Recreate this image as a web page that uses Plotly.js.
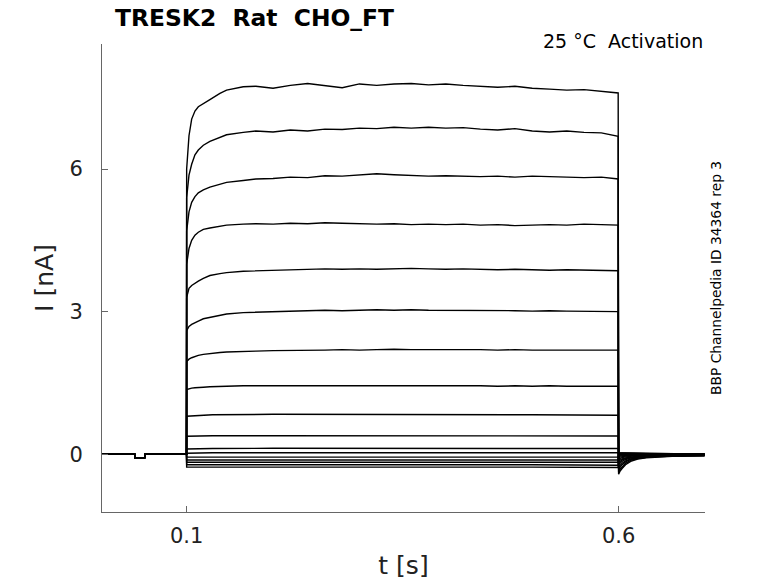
<!DOCTYPE html>
<html>
<head>
<meta charset="utf-8">
<script src="https://cdn.plot.ly/plotly-3.0.1.min.js"></script>
<style>
  html, body { margin: 0; padding: 0; background: #fff; }
  #chart { width: 778px; height: 583px; }
</style>
</head>
<body>
<div id="chart"></div>
<script>
// time grids [s]
var tPre  = [0.002, 0.0398, 0.0405, 0.0512, 0.0519, 0.0998];
var tStep = [0.1, 0.1027, 0.1058, 0.1096, 0.1135, 0.1193, 0.1269, 0.1385, 0.1462, 0.1655,
             0.18, 0.20, 0.22, 0.24, 0.26, 0.28, 0.30, 0.32, 0.34, 0.36, 0.38, 0.40,
             0.42, 0.44, 0.46, 0.48, 0.50, 0.52, 0.54, 0.56, 0.58, 0.5995];
var tFlat = [0.1, 0.13, 0.2, 0.3, 0.4, 0.5, 0.5995];
var tTail = [0.6, 0.6015, 0.604, 0.608, 0.614, 0.622, 0.632, 0.645, 0.662, 0.68, 0.6995];

// holding current before the step [nA]
var iPre = [0, 0, -0.08, -0.08, 0, 0];

// currents during the step [nA], largest sweep first
var sweep1 = [6.0, 6.7, 7.05, 7.22, 7.31, 7.38, 7.46, 7.59, 7.66, 7.73, 7.74, 7.70, 7.76, 7.80, 7.76, 7.71,
              7.79, 7.76, 7.79, 7.80, 7.77, 7.79, 7.76, 7.74, 7.72, 7.74, 7.70, 7.68, 7.66, 7.67, 7.64, 7.60];
var sweep2 = [5.4, 5.87, 6.1, 6.3, 6.4, 6.5, 6.58, 6.67, 6.72, 6.77, 6.80, 6.78, 6.82, 6.80, 6.84, 6.83,
              6.86, 6.85, 6.88, 6.86, 6.88, 6.86, 6.87, 6.84, 6.82, 6.85, 6.80, 6.78, 6.80, 6.77, 6.76, 6.69];
var sweep3 = [4.7, 5.10, 5.30, 5.42, 5.50, 5.56, 5.62, 5.68, 5.72, 5.76, 5.79, 5.80, 5.83, 5.82, 5.86, 5.85,
              5.88, 5.90, 5.88, 5.86, 5.85, 5.86, 5.85, 5.84, 5.85, 5.83, 5.85, 5.84, 5.83, 5.82, 5.83, 5.79];
var sweep4 = [4.0, 4.33, 4.50, 4.61, 4.67, 4.73, 4.76, 4.80, 4.82, 4.84, 4.85, 4.84, 4.86, 4.85, 4.87, 4.86,
              4.85, 4.84, 4.85, 4.83, 4.84, 4.83, 4.84, 4.82, 4.83, 4.81, 4.82, 4.83, 4.82, 4.84, 4.83, 4.82];
var sweep5 = [3.3, 3.49, 3.55, 3.60, 3.64, 3.70, 3.76, 3.80, 3.82, 3.85, 3.86, 3.87, 3.88, 3.89, 3.90, 3.89,
              3.90, 3.89, 3.90, 3.91, 3.90, 3.89, 3.90, 3.89, 3.88, 3.89, 3.88, 3.87, 3.88, 3.87, 3.87, 3.86];
var sweep6 = [2.6, 2.69, 2.73, 2.77, 2.80, 2.85, 2.88, 2.92, 2.95, 2.98, 2.99, 3.00, 3.01, 3.02, 3.03, 3.02,
              3.03, 3.04, 3.03, 3.04, 3.03, 3.03, 3.02, 3.03, 3.02, 3.02, 3.01, 3.02, 3.01, 3.01, 3.00, 3.00];
var sweep7 = [1.95, 2.00, 2.03, 2.06, 2.08, 2.10, 2.12, 2.14, 2.15, 2.17, 2.17, 2.18, 2.18, 2.19, 2.19, 2.20,
              2.19, 2.20, 2.21, 2.20, 2.20, 2.21, 2.20, 2.20, 2.19, 2.20, 2.19, 2.19, 2.20, 2.19, 2.19, 2.19];
var sweep8 = [1.36, 1.38, 1.39, 1.40, 1.41, 1.41, 1.42, 1.43, 1.43, 1.44, 1.44, 1.44, 1.45, 1.44, 1.45, 1.45,
              1.44, 1.45, 1.45, 1.44, 1.45, 1.44, 1.44, 1.44, 1.43, 1.44, 1.43, 1.44, 1.43, 1.43, 1.43, 1.43];
// small sweeps, sampled on tFlat
var sweep9  = [0.80, 0.83, 0.84, 0.84, 0.83, 0.83, 0.82];
var sweep10 = [0.38, 0.39, 0.39, 0.39, 0.39, 0.385, 0.385];
var sweep11 = [0.11, 0.12, 0.125, 0.125, 0.125, 0.12, 0.12];
var sweep12 = [0.02, 0.03, 0.03, 0.03, 0.03, 0.03, 0.03];
var sweep13 = [-0.06, -0.06, -0.06, -0.06, -0.06, -0.06, -0.06];
var sweep14 = [-0.12, -0.12, -0.12, -0.11, -0.12, -0.12, -0.12];
var sweep15 = [-0.17, -0.17, -0.17, -0.16, -0.17, -0.17, -0.17];
var sweep16 = [-0.22, -0.22, -0.22, -0.21, -0.22, -0.22, -0.23];
var sweep17 = [-0.27, -0.27, -0.26, -0.26, -0.27, -0.27, -0.28];

// tail currents after the step [nA]
var tail1  = [-0.42, -0.36, -0.30, -0.22, -0.15, -0.10, -0.075, -0.06, -0.045, -0.038, -0.035];
var tail2  = [-0.37, -0.32, -0.26, -0.19, -0.13, -0.09, -0.065, -0.05, -0.04, -0.034, -0.03];
var tail3  = [-0.32, -0.27, -0.22, -0.16, -0.11, -0.08, -0.06, -0.045, -0.035, -0.03, -0.028];
var tail4  = [-0.27, -0.23, -0.19, -0.14, -0.10, -0.07, -0.05, -0.04, -0.032, -0.028, -0.025];
var tail5  = [-0.22, -0.19, -0.15, -0.11, -0.08, -0.06, -0.045, -0.035, -0.03, -0.025, -0.022];
var tail6  = [-0.18, -0.15, -0.12, -0.09, -0.065, -0.05, -0.04, -0.03, -0.025, -0.022, -0.02];
var tail7  = [-0.14, -0.12, -0.10, -0.075, -0.055, -0.04, -0.032, -0.026, -0.022, -0.02, -0.018];
var tail8  = [-0.10, -0.085, -0.07, -0.055, -0.04, -0.03, -0.025, -0.02, -0.018, -0.016, -0.015];
var tail9  = [-0.07, -0.06, -0.05, -0.04, -0.03, -0.022, -0.018, -0.015, -0.013, -0.012, -0.01];
var tail10 = [-0.04, -0.035, -0.03, -0.025, -0.02, -0.015, -0.012, -0.01, -0.008, -0.007, -0.006];
var tail11 = [-0.02, -0.018, -0.015, -0.012, -0.01, -0.008, -0.006, -0.005, -0.004, -0.004, -0.003];
var tail12 = [0, 0, 0, 0, 0, 0, 0, 0, 0, 0, 0];
var tail13 = [0, 0.005, 0.01, 0.01, 0.01, 0.01, 0.01, 0.005, 0.005, 0, 0];
var tail14 = [0.01, 0.015, 0.015, 0.015, 0.015, 0.01, 0.01, 0.01, 0.005, 0.005, 0];
var tail15 = [0.015, 0.02, 0.02, 0.02, 0.015, 0.015, 0.01, 0.01, 0.005, 0.005, 0.005];
var tail16 = [0.02, 0.02, 0.02, 0.02, 0.02, 0.015, 0.015, 0.01, 0.01, 0.005, 0.005];
var tail17 = [0.02, 0.025, 0.025, 0.02, 0.02, 0.02, 0.015, 0.01, 0.01, 0.005, 0.005];

var fine  = [sweep1, sweep2, sweep3, sweep4, sweep5, sweep6, sweep7, sweep8];
var flat  = [sweep9, sweep10, sweep11, sweep12, sweep13, sweep14, sweep15, sweep16, sweep17];
var tails = [tail1, tail2, tail3, tail4, tail5, tail6, tail7, tail8, tail9,
             tail10, tail11, tail12, tail13, tail14, tail15, tail16, tail17];

var font = "DejaVu Sans, sans-serif";
var axisGray = "#666666";

var data = [];
fine.concat(flat).forEach(function (sw, k) {
    var tGrid = k < fine.length ? tStep : tFlat;
    data.push({
        type: "scatter",
        mode: "lines",
        x: tPre.concat(tGrid, tTail),
        y: iPre.concat(sw, tails[k]),
        line: { color: "#000000", width: 1.4 },
        hoverinfo: "skip",
        showlegend: false
    });
});

var layout = {
    width: 778,
    height: 583,
    margin: { l: 102, r: 73, t: 44, b: 71 },
    paper_bgcolor: "#ffffff",
    plot_bgcolor: "#ffffff",
    font: { family: font, color: "#222222" },
    title: {
        text: "TRESK2 \u00a0Rat \u00a0CHO_FT",
        font: { family: font, size: 23.4, weight: "bold", color: "#000000" },
        xref: "container", x: 115 / 778, xanchor: "left",
        yref: "container", y: 1 - 18 / 583, yanchor: "middle"
    },
    xaxis: {
        range: [0.002, 0.7],
        tickvals: [0.1, 0.6],
        ticktext: ["0.1", "0.6"],
        ticks: "inside", ticklen: 6, tickcolor: axisGray, tickwidth: 1,
        showline: true, linecolor: axisGray, linewidth: 1,
        showgrid: false, zeroline: false,
        tickfont: { size: 21, color: "#222222" },
        ticklabelstandoff: 5,
        title: { text: "t [s]", font: { size: 25, color: "#222222" }, standoff: 9 }
    },
    yaxis: {
        range: [-1.215, 8.63],
        tickvals: [0, 3, 6],
        ticktext: ["0", "3", "6"],
        ticks: "inside", ticklen: 6, tickcolor: axisGray, tickwidth: 1,
        showline: true, linecolor: axisGray, linewidth: 1,
        showgrid: false, zeroline: false,
        tickfont: { size: 21, color: "#222222" },
        ticklabelstandoff: 14,
        title: { text: "I [nA]", font: { size: 25, color: "#222222" }, standoff: 8 }
    },
    annotations: [
        {
            text: "25 \u00b0C \u00a0Activation",
            xref: "paper", yref: "paper", x: 1, y: (512 - 41) / 468,
            xanchor: "right", yanchor: "middle", showarrow: false,
            font: { family: font, size: 19, color: "#000000" }
        },
        {
            text: "BBP Channelpedia ID 34364 rep 3",
            xref: "paper", yref: "paper", x: (716 - 102) / 603, y: (512 - 278) / 468,
            xanchor: "center", yanchor: "middle", textangle: -90, showarrow: false,
            font: { family: font, size: 13.8, color: "#000000" }
        }
    ]
};

Plotly.newPlot("chart", data, layout, { displayModeBar: false, staticPlot: true });
</script>
</body>
</html>
